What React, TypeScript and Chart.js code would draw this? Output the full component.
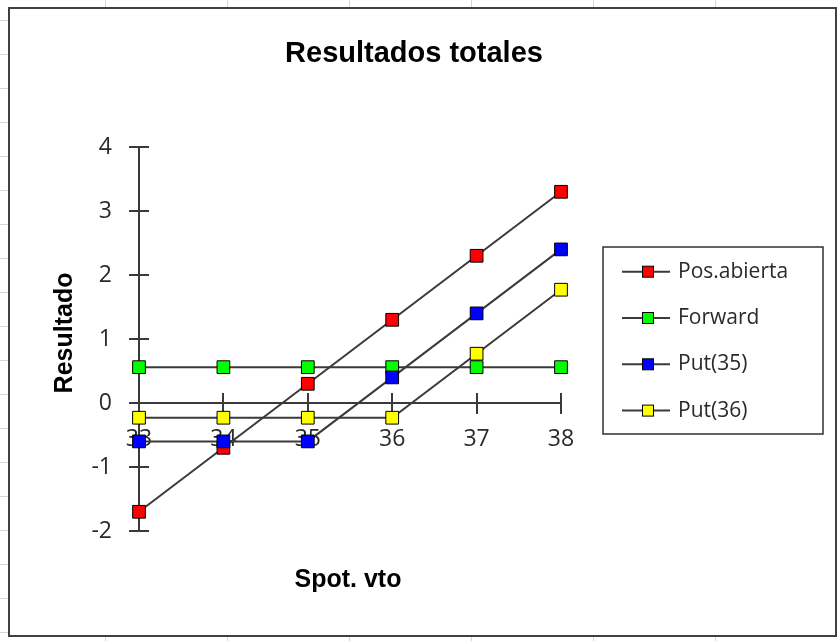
import React, { useEffect, useRef } from 'react';
import { Chart, registerables } from 'chart.js';

Chart.register(...registerables);

// ---- data ----
const categories = ['33', '34', '35', '36', '37', '38'];
const seriesNames = ['Pos.abierta', 'Forward', 'Put(35)', 'Put(36)'];
const posAbierta = [-1.7, -0.7, 0.3, 1.3, 2.3, 3.3];
const forward = [0.56, 0.56, 0.56, 0.56, 0.56, 0.56];
const put35 = [-0.6, -0.6, -0.6, 0.4, 1.4, 2.4];
const put36 = [-0.23, -0.23, -0.23, -0.23, 0.77, 1.77];
const markerColors = ['#ff0000', '#00ff00', '#0000ff', '#ffff00'];
const yMin = -2;
const yMax = 4;
const yStep = 1;
const chartTitle = 'Resultados totales';
const xTitle = 'Spot. vto';
const yTitle = 'Resultado';

const AXIS = '#3a3a3a';
const TEXT = '#2a2a2a';
const TICK_FONT = "'Open Sans', 'Noto Sans', sans-serif";
const BOLD_FONT = "'Liberation Sans', Arial, sans-serif";

const decorPlugin = {
  id: 'decor',
  beforeDatasetsDraw(chart: any) {
    const { ctx, scales } = chart;
    const x = scales.x;
    const y = scales.y;
    ctx.save();
    ctx.strokeStyle = AXIS;
    ctx.lineWidth = 2;
    const y0 = y.getPixelForValue(0);
    x.ticks.forEach((_t: any, i: number) => {
      const px = Math.round(x.getPixelForTick(i));
      ctx.beginPath();
      ctx.moveTo(px, y0 - 10);
      ctx.lineTo(px, y0);
      ctx.stroke();
    });
    const ax = y.right;
    y.ticks.forEach((_t: any, i: number) => {
      const py = Math.round(y.getPixelForTick(i));
      ctx.beginPath();
      ctx.moveTo(ax, py);
      ctx.lineTo(ax + 10, py);
      ctx.stroke();
    });
    ctx.restore();
  },
  afterDraw(chart: any) {
    const { ctx, chartArea } = chart;
    ctx.save();
    // main title
    ctx.fillStyle = '#000';
    ctx.textAlign = 'center';
    ctx.textBaseline = 'alphabetic';
    ctx.font = `bold 29px ${BOLD_FONT}`;
    ctx.fillText(chartTitle, 414, 62);
    // x title
    ctx.font = `bold 25px ${BOLD_FONT}`;
    ctx.fillText(xTitle, (chartArea.left + chartArea.right) / 2 - 2, 587);
    // y title
    ctx.save();
    ctx.translate(72, (chartArea.top + chartArea.bottom) / 2 - 6);
    ctx.rotate(-Math.PI / 2);
    ctx.font = `bold 25px ${BOLD_FONT}`;
    ctx.fillText(yTitle, 0, 0);
    ctx.restore();

    // legend
    const lx = 603, ly = 247, lw = 220, lh = 187;
    ctx.strokeStyle = '#303030';
    ctx.lineWidth = 1.5;
    ctx.strokeRect(lx, ly, lw, lh);
    chart.data.datasets.forEach((ds: any, i: number) => {
      const cy = 271.7 + i * 46.3;
      ctx.strokeStyle = AXIS;
      ctx.lineWidth = 2;
      ctx.beginPath();
      ctx.moveTo(622, cy);
      ctx.lineTo(670, cy);
      ctx.stroke();
      ctx.fillStyle = ds.pointBackgroundColor;
      ctx.fillRect(642.5, cy - 5.5, 11, 11);
      ctx.strokeStyle = '#000';
      ctx.lineWidth = 1;
      ctx.strokeRect(642.5, cy - 5.5, 11, 11);
      ctx.fillStyle = TEXT;
      ctx.textAlign = 'left';
      ctx.textBaseline = 'middle';
      ctx.font = `21px ${TICK_FONT}`;
      ctx.fillText(ds.label, 678, cy);
    });
    ctx.restore();
  },
};

export default function App() {
  const canvasRef = useRef<HTMLCanvasElement | null>(null);

  useEffect(() => {
    if (!canvasRef.current) return;
    const series = [posAbierta, forward, put35, put36];
    const chart = new Chart(canvasRef.current, {
      type: 'line',
      data: {
        labels: categories,
        datasets: series.map((values, i) => ({
          label: seriesNames[i],
          data: values,
          borderColor: AXIS,
          borderWidth: 2,
          pointStyle: 'rect',
          pointRadius: 9,
          pointHoverRadius: 9,
          pointBackgroundColor: markerColors[i],
          pointBorderColor: '#000',
          pointBorderWidth: 1,
          tension: 0,
          fill: false,
          clip: false as any,
          order: series.length - i,
        })),
      },
      options: {
        responsive: false,
        animation: false,
        devicePixelRatio: 1,
        layout: { padding: { left: 10, top: 147, right: 276, bottom: 110 } },
        plugins: {
          legend: { display: false },
          title: { display: false },
          tooltip: { enabled: false },
        },
        scales: {
          x: {
            type: 'category',
            position: { y: 0 } as any,
            offset: false,
            grid: {
              drawOnChartArea: false,
              drawTicks: true,
              tickLength: 10,
              color: AXIS,
              lineWidth: 2,
            },
            border: { display: true, color: AXIS, width: 2 },
            ticks: {
              font: { family: TICK_FONT, size: 23 },
              color: TEXT,
              padding: 13,
              maxRotation: 0,
              autoSkip: false,
            },
          },
          y: {
            type: 'linear',
            position: 'left',
            min: yMin,
            max: yMax,
            afterFit: (s: any) => {
              s.width = 129;
            },
            grid: {
              drawOnChartArea: false,
              drawTicks: true,
              tickLength: 10,
              color: AXIS,
              lineWidth: 2,
            },
            border: { display: true, color: AXIS, width: 2 },
            ticks: {
              stepSize: yStep,
              font: { family: TICK_FONT, size: 23 },
              color: TEXT,
              padding: 17,
            },
          },
        },
      },
      plugins: [decorPlugin],
    });
    return () => chart.destroy();
  }, []);

  return (
    <div
      style={{
        position: 'fixed',
        left: 0,
        top: 0,
        width: 837,
        height: 641,
        overflow: 'hidden',
        background: '#fff',
        backgroundImage:
          'linear-gradient(to right, #d6d6d6 1px, transparent 1px), linear-gradient(to bottom, #d6d6d6 1px, transparent 1px)',
        backgroundSize: '122px 100%, 100% 34px',
        backgroundPosition: '105px 0, 0 20px',
      }}
    >
      <div
        style={{
          position: 'absolute',
          left: 8,
          top: 7,
          width: 829,
          height: 630,
          boxSizing: 'border-box',
          border: '2px solid #404040',
          background: '#fff',
        }}
      />
      <canvas
        ref={canvasRef}
        width={837}
        height={641}
        style={{ position: 'absolute', left: 0, top: 0, width: 837, height: 641 }}
      />
    </div>
  );
}
